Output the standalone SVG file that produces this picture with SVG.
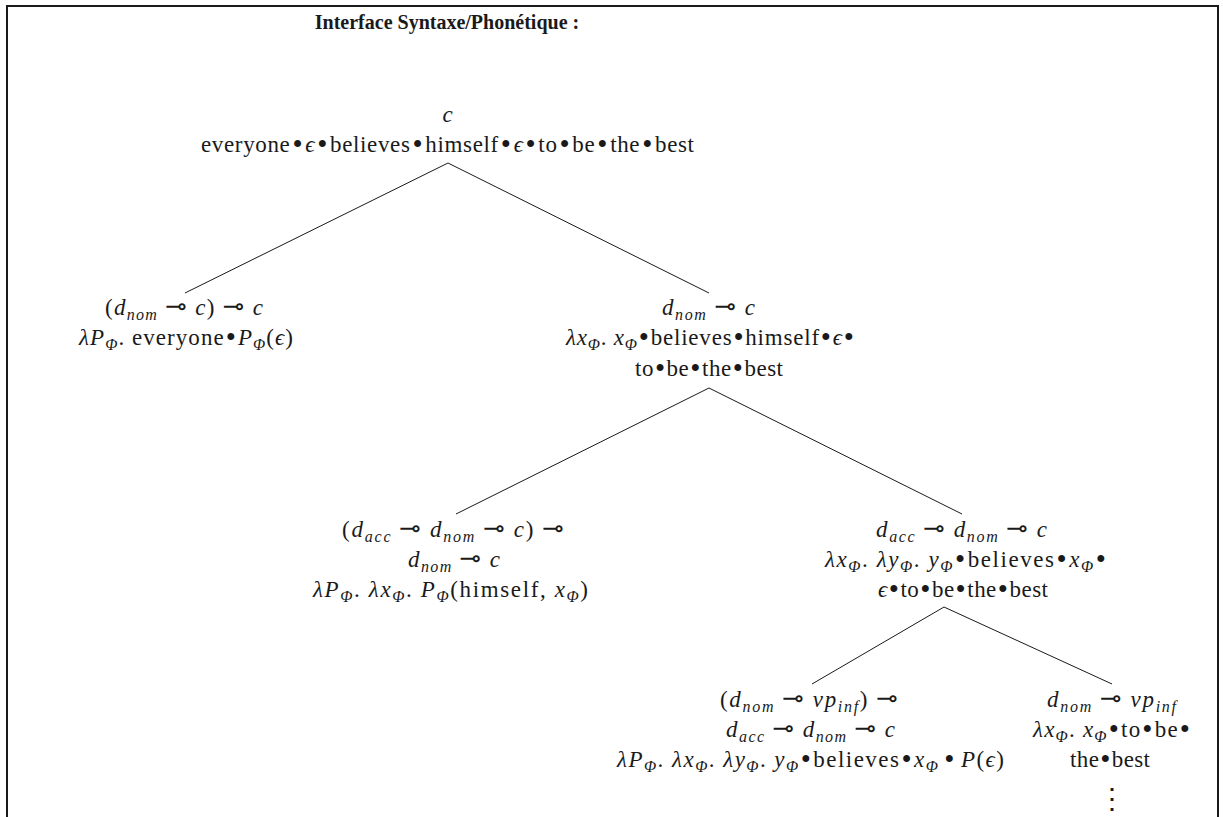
<svg xmlns="http://www.w3.org/2000/svg" width="1223" height="817" viewBox="0 0 1223 817">
<style>
.t{font-family:"Liberation Serif","Times New Roman",serif;font-size:23px;fill:#1a1a1a;text-anchor:middle}
.title{font-size:20px;font-weight:bold}
.i{font-style:italic}
.g{font-family:"Liberation Serif","DejaVu Serif",serif;font-style:italic}
.s{font-size:16px;font-style:italic}
.b{font-size:29px}
.m{font-family:"DejaVu Sans",sans-serif;font-size:26px}
.e{stroke:#1a1a1a;stroke-width:1;fill:none}
.frame{stroke:#1a1a1a;stroke-width:2;fill:none}
</style>
<rect width="1223" height="817" fill="#fff"/>
<path class="frame" d="M7,817 V6 H1218 V817"/>
<text class="t title" x="447" y="29">Interface Syntaxe/Phonétique :</text>
<g id="connectors">
<line class="e" x1="448" y1="163" x2="185" y2="293"/>
<line class="e" x1="448" y1="163" x2="709" y2="293"/>
<line class="e" x1="709" y1="388" x2="456" y2="514"/>
<line class="e" x1="709" y1="388" x2="962" y2="514"/>
<line class="e" x1="944" y1="607" x2="812" y2="684"/>
<line class="e" x1="944" y1="607" x2="1112" y2="684"/>
</g>
<g id="root">
<text class="t i" x="447.5" y="122">c</text>
<text class="t" x="447.5" y="152" textLength="493" lengthAdjust="spacing">everyone<tspan class="b" dx="2" dy="2">•</tspan><tspan dx="2" dy="-2" class="g">ϵ</tspan><tspan class="b" dx="2" dy="2">•</tspan><tspan dx="2" dy="-2">believes</tspan><tspan class="b" dx="2" dy="2">•</tspan><tspan dx="2" dy="-2">himself</tspan><tspan class="b" dx="2" dy="2">•</tspan><tspan dx="2" dy="-2" class="g">ϵ</tspan><tspan class="b" dx="2" dy="2">•</tspan><tspan dx="2" dy="-2">to</tspan><tspan class="b" dx="2" dy="2">•</tspan><tspan dx="2" dy="-2">be</tspan><tspan class="b" dx="2" dy="2">•</tspan><tspan dx="2" dy="-2">the</tspan><tspan class="b" dx="2" dy="2">•</tspan><tspan dx="2" dy="-2">best</tspan></text>
</g>
<g id="n1">
<text class="t" x="184" y="315" textLength="158" lengthAdjust="spacing">(<tspan class="i">d</tspan><tspan class="s" dy="5">nom</tspan><tspan class="m" dx="7" dy="-5">⊸</tspan><tspan class="i" dx="7">c</tspan>)<tspan class="m" dx="7">⊸</tspan><tspan class="i" dx="7">c</tspan></text>
<text class="t" x="186" y="345" textLength="214" lengthAdjust="spacing"><tspan class="i">λP</tspan><tspan class="s" dy="5">Φ</tspan><tspan dy="-5">. everyone</tspan><tspan class="b" dx="1" dy="2">•</tspan><tspan class="i" dx="1" dy="-2">P</tspan><tspan class="s" dy="5">Φ</tspan><tspan dy="-5">(</tspan><tspan class="g">ϵ</tspan>)</text>
</g>
<g id="n2">
<text class="t" x="708.5" y="315" textLength="93" lengthAdjust="spacing"><tspan class="i">d</tspan><tspan class="s" dy="5">nom</tspan><tspan class="m" dx="7" dy="-5">⊸</tspan><tspan class="i" dx="7">c</tspan></text>
<text class="t" x="710" y="345" textLength="288" lengthAdjust="spacing"><tspan class="i">λx</tspan><tspan class="s" dy="5">Φ</tspan><tspan dy="-5">. </tspan><tspan class="i">x</tspan><tspan class="s" dy="5">Φ</tspan><tspan class="b" dx="1" dy="-3">•</tspan><tspan dx="1" dy="-2">believes</tspan><tspan class="b" dx="1" dy="2">•</tspan><tspan dx="1" dy="-2">himself</tspan><tspan class="b" dx="1" dy="2">•</tspan><tspan dx="1" dy="-2" class="g">ϵ</tspan><tspan class="b" dx="1" dy="2">•</tspan></text>
<text class="t" x="709" y="376" textLength="148" lengthAdjust="spacing">to<tspan class="b" dx="1" dy="2">•</tspan><tspan dx="1" dy="-2">be</tspan><tspan class="b" dx="1" dy="2">•</tspan><tspan dx="1" dy="-2">the</tspan><tspan class="b" dx="1" dy="2">•</tspan><tspan dx="1" dy="-2">best</tspan></text>
</g>
<g id="n3">
<text class="t" x="453" y="537" textLength="222" lengthAdjust="spacing">(<tspan class="i">d</tspan><tspan class="s" dy="5">acc</tspan><tspan class="m" dx="7" dy="-5">⊸</tspan><tspan class="i" dx="7">d</tspan><tspan class="s" dy="5">nom</tspan><tspan class="m" dx="7" dy="-5">⊸</tspan><tspan class="i" dx="7">c</tspan>)<tspan class="m" dx="7">⊸</tspan></text>
<text class="t" x="454" y="567" textLength="92" lengthAdjust="spacing"><tspan class="i">d</tspan><tspan class="s" dy="5">nom</tspan><tspan class="m" dx="7" dy="-5">⊸</tspan><tspan class="i" dx="7">c</tspan></text>
<text class="t" x="450.5" y="597" textLength="275" lengthAdjust="spacing"><tspan class="i">λP</tspan><tspan class="s" dy="5">Φ</tspan><tspan dy="-5">. </tspan><tspan class="i">λx</tspan><tspan class="s" dy="5">Φ</tspan><tspan dy="-5">. </tspan><tspan class="i">P</tspan><tspan class="s" dy="5">Φ</tspan><tspan dy="-5">(himself, </tspan><tspan class="i">x</tspan><tspan class="s" dy="5">Φ</tspan><tspan dy="-5">)</tspan></text>
</g>
<g id="n4">
<text class="t" x="961.5" y="537" textLength="171" lengthAdjust="spacing"><tspan class="i">d</tspan><tspan class="s" dy="5">acc</tspan><tspan class="m" dx="7" dy="-5">⊸</tspan><tspan class="i" dx="7">d</tspan><tspan class="s" dy="5">nom</tspan><tspan class="m" dx="7" dy="-5">⊸</tspan><tspan class="i" dx="7">c</tspan></text>
<text class="t" x="965.5" y="567" textLength="281" lengthAdjust="spacing"><tspan class="i">λx</tspan><tspan class="s" dy="5">Φ</tspan><tspan dy="-5">. </tspan><tspan class="i">λy</tspan><tspan class="s" dy="5">Φ</tspan><tspan dy="-5">. </tspan><tspan class="i">y</tspan><tspan class="s" dy="5">Φ</tspan><tspan class="b" dx="1" dy="-3">•</tspan><tspan dx="1" dy="-2">believes</tspan><tspan class="b" dx="1" dy="2">•</tspan><tspan class="i" dx="1" dy="-2">x</tspan><tspan class="s" dy="5">Φ</tspan><tspan class="b" dx="1" dy="-3">•</tspan></text>
<text class="t" x="963" y="597" textLength="170" lengthAdjust="spacing"><tspan class="g">ϵ</tspan><tspan class="b" dx="1" dy="2">•</tspan><tspan dx="1" dy="-2">to</tspan><tspan class="b" dx="1" dy="2">•</tspan><tspan dx="1" dy="-2">be</tspan><tspan class="b" dx="1" dy="2">•</tspan><tspan dx="1" dy="-2">the</tspan><tspan class="b" dx="1" dy="2">•</tspan><tspan dx="1" dy="-2">best</tspan></text>
</g>
<g id="n5">
<text class="t" x="809" y="707" textLength="178" lengthAdjust="spacing">(<tspan class="i">d</tspan><tspan class="s" dy="5">nom</tspan><tspan class="m" dx="7" dy="-5">⊸</tspan><tspan class="i" dx="7">vp</tspan><tspan class="s" dy="5">inf</tspan><tspan dy="-5">)</tspan><tspan class="m" dx="7">⊸</tspan></text>
<text class="t" x="810.5" y="737" textLength="169" lengthAdjust="spacing"><tspan class="i">d</tspan><tspan class="s" dy="5">acc</tspan><tspan class="m" dx="7" dy="-5">⊸</tspan><tspan class="i" dx="7">d</tspan><tspan class="s" dy="5">nom</tspan><tspan class="m" dx="7" dy="-5">⊸</tspan><tspan class="i" dx="7">c</tspan></text>
<text class="t" x="810.5" y="767" textLength="387" lengthAdjust="spacing"><tspan class="i">λP</tspan><tspan class="s" dy="5">Φ</tspan><tspan dy="-5">. </tspan><tspan class="i">λx</tspan><tspan class="s" dy="5">Φ</tspan><tspan dy="-5">. </tspan><tspan class="i">λy</tspan><tspan class="s" dy="5">Φ</tspan><tspan dy="-5">. </tspan><tspan class="i">y</tspan><tspan class="s" dy="5">Φ</tspan><tspan class="b" dx="1" dy="-3">•</tspan><tspan dx="1" dy="-2">believes</tspan><tspan class="b" dx="1" dy="2">•</tspan><tspan class="i" dx="1" dy="-2">x</tspan><tspan class="s" dy="5">Φ</tspan><tspan class="b" dx="5" dy="-3">•</tspan><tspan class="i" dx="5" dy="-2">P</tspan>(<tspan class="g">ϵ</tspan>)</text>
</g>
<g id="n6">
<text class="t" x="1111.5" y="707" textLength="129" lengthAdjust="spacing"><tspan class="i">d</tspan><tspan class="s" dy="5">nom</tspan><tspan class="m" dx="7" dy="-5">⊸</tspan><tspan class="i" dx="7">vp</tspan><tspan class="s" dy="5">inf</tspan></text>
<text class="t" x="1111.5" y="737" textLength="157" lengthAdjust="spacing"><tspan class="i">λx</tspan><tspan class="s" dy="5">Φ</tspan><tspan dy="-5">. </tspan><tspan class="i">x</tspan><tspan class="s" dy="5">Φ</tspan><tspan class="b" dx="1" dy="-3">•</tspan><tspan dx="1" dy="-2">to</tspan><tspan class="b" dx="1" dy="2">•</tspan><tspan dx="1" dy="-2">be</tspan><tspan class="b" dx="1" dy="2">•</tspan></text>
<text class="t" x="1110" y="767" textLength="80" lengthAdjust="spacing">the<tspan class="b" dx="1" dy="2">•</tspan><tspan dx="1" dy="-2">best</tspan></text>
<text class="t" x="1112" y="808" style="font-family:'DejaVu Serif',serif;font-size:28px">⋮</text>
</g>
</svg>
